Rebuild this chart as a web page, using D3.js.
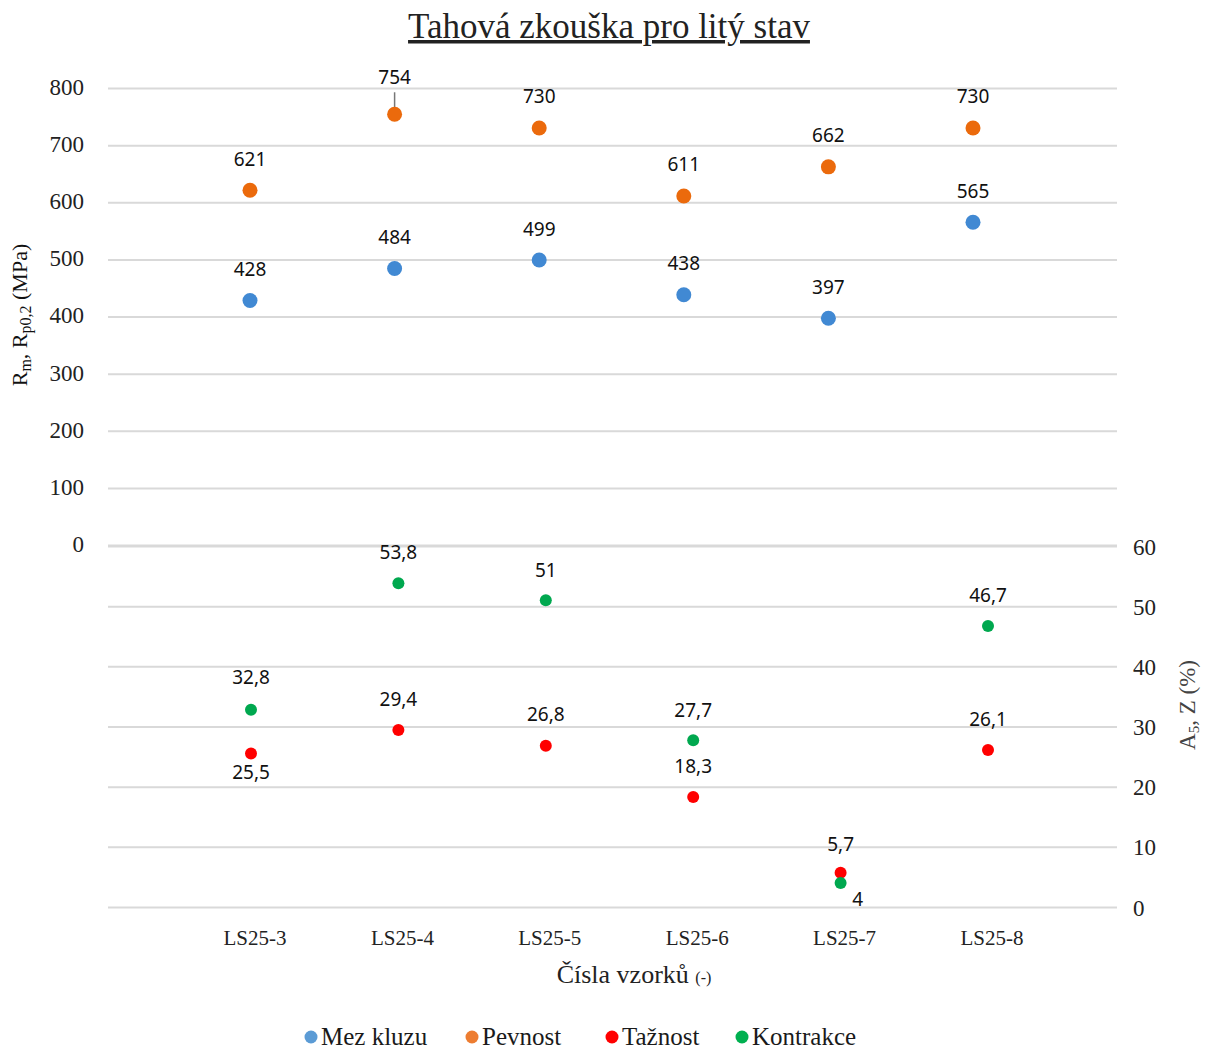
<!DOCTYPE html>
<html>
<head>
<meta charset="utf-8">
<script src="https://cdn.jsdelivr.net/npm/d3@7"></script>
<style>
  body { margin: 0; background: #fff; }
  .grid line { stroke: #d9d9d9; stroke-width: 2; }
  .grid path { display: none; }
  .tick text { font-family: "Liberation Serif", serif; font-size: 23px; fill: #222; }
  .dlabel { font-family: "Noto Sans", sans-serif; font-size: 19px; fill: #111; }
</style>
</head>
<body>
<svg width="1205" height="1050"></svg>
<script>
// samples on the x axis
const samples = ['LS25-3', 'LS25-4', 'LS25-5', 'LS25-6', 'LS25-7', 'LS25-8'];

// upper chart, MPa
const mezKluzu = [428, 484, 499, 438, 397, 565];
const pevnost = [621, 754, 730, 611, 662, 730];

// lower chart, %
const taznost = [25.5, 29.4, 26.8, 18.3, 5.7, 26.1];
const kontrakce = [32.8, 53.8, 51, 27.7, 4, 46.7];

const topTicks = [0, 100, 200, 300, 400, 500, 600, 700, 800];
const bottomTicks = [0, 10, 20, 30, 40, 50, 60];

const fmt = v => String(v).replace('.', ',');

let svg = d3.select('svg');
const gridLeft = 108, gridRight = 1117;

// scales
let xTop = d3.scalePoint().domain(samples).range([250, 973]);
let xBot = d3.scalePoint().domain(samples).range([251, 988]);
let yTop = d3.scaleLinear().domain([0, 800]).range([545, 88]);
let yBot = d3.scaleLinear().domain([0, 60]).range([907, 546]);

// gridlines + tick labels, upper chart (left axis)
svg.append('g')
    .classed('grid', true)
    .attr('transform', `translate(${gridLeft},0)`)
    .call(d3.axisLeft(yTop).tickValues(topTicks).tickSize(-(gridRight - gridLeft)).tickPadding(24))
    .call(g => g.selectAll('.tick text').attr('dy', '0.28em'));

// lower chart (right axis)
svg.append('g')
    .classed('grid', true)
    .attr('transform', `translate(${gridRight},0)`)
    .call(d3.axisRight(yBot).tickValues(bottomTicks).tickSize(-(gridRight - gridLeft)).tickPadding(16))
    .call(g => g.selectAll('.tick line').attr('x1', 0).attr('x2', -(gridRight - gridLeft)))
    .call(g => g.selectAll('.tick text').attr('x', 16).attr('dy', '0.35em'));

// x tick labels
svg.append('g')
  .selectAll('text')
  .data(samples)
  .enter()
  .append('text')
    .attr('x', d => xBot(d) + 4)
    .attr('y', 945)
    .attr('text-anchor', 'middle')
    .style('font-family', '"Liberation Serif", serif')
    .style('font-size', '21px')
    .style('fill', '#222')
    .text(d => d);

// title
svg.append('text')
    .attr('x', 609)
    .attr('y', 38)
    .attr('text-anchor', 'middle')
    .style('font-family', '"Liberation Serif", serif')
    .style('font-size', '35px')
    .style('fill', '#222')
    .style('text-decoration', 'underline')
    .text('Tahová zkouška pro litý stav');

// axis titles
let yl = svg.append('text')
    .attr('transform', 'translate(27,315) rotate(-90)')
    .attr('text-anchor', 'middle')
    .style('font-family', '"Liberation Serif", serif')
    .style('font-size', '22px')
    .style('fill', '#111');
yl.append('tspan').text('R');
yl.append('tspan').text('m').attr('dy', 4).style('font-size', '16px');
yl.append('tspan').text(', R').attr('dy', -4);
yl.append('tspan').text('p0,2').attr('dy', 4).style('font-size', '16px');
yl.append('tspan').text(' (MPa)').attr('dy', -4);

let yr = svg.append('text')
    .attr('transform', 'translate(1195,705) rotate(-90)')
    .attr('text-anchor', 'middle')
    .style('font-family', '"Liberation Serif", serif')
    .style('font-size', '23px')
    .style('fill', '#444');
yr.append('tspan').text('A');
yr.append('tspan').text('5').attr('dy', 4).style('font-size', '15px');
yr.append('tspan').text(', Z (%)').attr('dy', -4);

let xl = svg.append('text')
    .attr('x', 634)
    .attr('y', 983)
    .attr('text-anchor', 'middle')
    .style('font-family', '"Liberation Serif", serif')
    .style('font-size', '26px')
    .style('fill', '#222');
xl.append('tspan').text('Čísla vzorků ');
xl.append('tspan').text('(-)').style('font-size', '16px');

// series
const topSeries = [
    {name: 'Mez kluzu', values: mezKluzu, color: '#4189d3'},
    {name: 'Pevnost', values: pevnost, color: '#eb6a0c'}
];
const botSeries = [
    {name: 'Tažnost', values: taznost, color: '#ff0000'},
    {name: 'Kontrakce', values: kontrakce, color: '#00a84f'}
];

// label placement offsets [dx, dy] relative to the point
const labelOffset = {
    'Mez kluzu': samples.map(() => [0, -31]),
    'Pevnost': [[0, -31], [0, -37], [0, -32], [0, -32], [0, -31], [0, -32]],
    'Tažnost': [[0, 19], [0, -31], [0, -31], [0, -31], [0, -28], [0, -31]],
    'Kontrakce': [[0, -32], [0, -31], [0, -30], [0, -30], [17, 16], [0, -31]]
};

// leader line for 754
svg.append('line')
    .attr('x1', xTop(samples[1])).attr('x2', xTop(samples[1]))
    .attr('y1', yTop(pevnost[1]) - 22).attr('y2', yTop(pevnost[1]) - 4)
    .attr('stroke', '#777').attr('stroke-width', 1.5);

function drawSeries(s, x, y, r) {
    let g = svg.append('g');
    g.selectAll('circle')
      .data(s.values)
      .enter()
      .append('circle')
        .attr('cx', (d, i) => x(samples[i]))
        .attr('cy', d => y(d))
        .attr('r', r)
        .attr('fill', s.color);
    g.selectAll('text')
      .data(s.values)
      .enter()
      .append('text')
        .classed('dlabel', true)
        .attr('x', (d, i) => x(samples[i]) + labelOffset[s.name][i][0])
        .attr('y', (d, i) => y(d) + labelOffset[s.name][i][1])
        .attr('dy', '0.35em')
        .attr('text-anchor', 'middle')
        .text(d => fmt(d));
}

topSeries.forEach(s => drawSeries(s, xTop, yTop, 7.5));
botSeries.forEach(s => drawSeries(s, xBot, yBot, 6));

// legend
const legendItems = [
    {name: 'Mez kluzu', color: '#5b9bd5', x: 311},
    {name: 'Pevnost', color: '#ed7d31', x: 472},
    {name: 'Tažnost', color: '#ff0000', x: 612},
    {name: 'Kontrakce', color: '#00b050', x: 742}
];
let leg = svg.append('g')
  .selectAll('g')
  .data(legendItems)
  .enter()
  .append('g')
    .attr('transform', d => `translate(${d.x},1037)`);
leg.append('circle').attr('r', 6.5).attr('fill', d => d.color);
leg.append('text')
    .attr('x', 10)
    .attr('dy', '0.33em')
    .style('font-family', '"Liberation Serif", serif')
    .style('font-size', '25px')
    .style('fill', '#1a1a1a')
    .text(d => d.name);
</script>
</body>
</html>
